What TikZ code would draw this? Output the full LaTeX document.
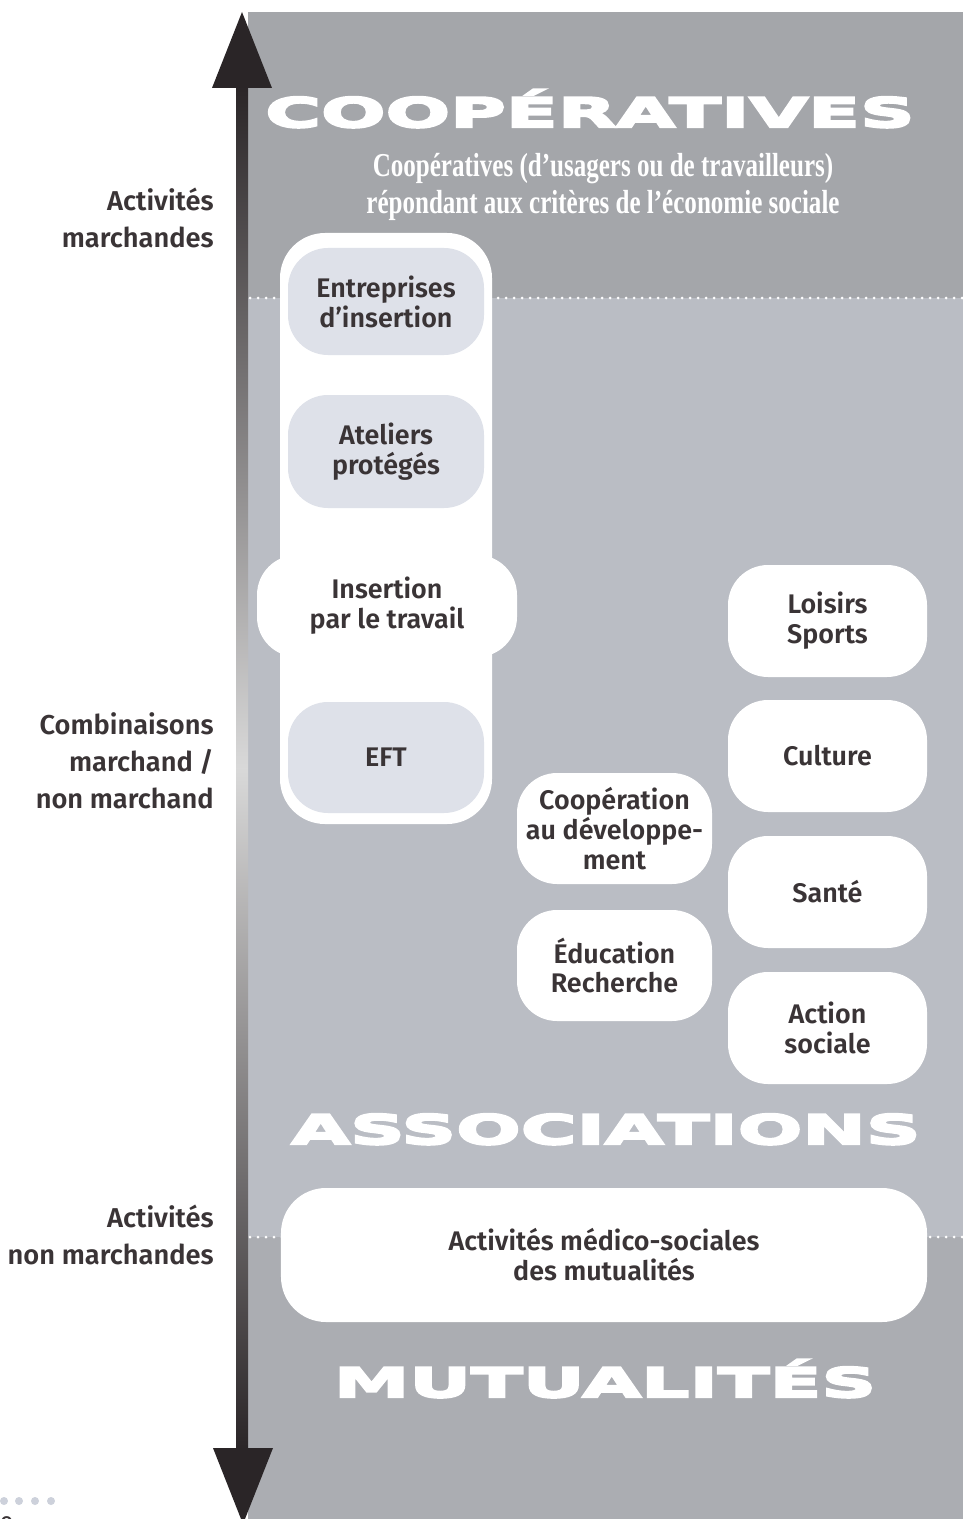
\documentclass[tikz,border=0pt]{standalone}
\usepackage{fontspec}
\setsansfont{Fira Sans}[BoldFont={Fira Sans SemiBold}]
\newfontfamily\headfont[FakeStretch=1.88, FakeBold=6]{DejaVu Sans}
\newfontfamily\notefont[FakeStretch=0.75]{Liberation Serif}
\definecolor{panelTop}{HTML}{A4A6AA}
\definecolor{panelMid}{HTML}{BABDC4}
\definecolor{panelLow}{HTML}{ABADB2}
\definecolor{boxInner}{HTML}{DEE1E9}
\definecolor{ink}{HTML}{3A3436}
\definecolor{arrowInk}{HTML}{2A2527}
\definecolor{folioDot}{HTML}{CDD1DB}
\begin{document}
\begin{tikzpicture}[x=0.2mm, y=-0.2mm,
    pill/.style ={rounded corners=8mm, fill=white, align=center, inner sep=0pt, text=ink,
      font=\sffamily\bfseries\fontsize{15.3}{17}\selectfont, minimum width=39.8mm, minimum height=22.4mm},
    innerpill/.style ={pill, fill=boxInner, minimum width=39.2mm},
    heading/.style ={anchor=base, text=white, inner sep=0pt, font=\headfont\bfseries\fontsize{23}{23}\selectfont},
    sidelabel/.style ={anchor=east, align=right, inner sep=0pt, text=ink,
      font=\sffamily\bfseries\fontsize{15.5}{21}\selectfont},
    dotrule/.style ={white, line width=0.6mm, line cap=round, dash pattern=on 0pt off 1.6mm}]
   \useasboundingbox (0,0) rectangle (963,1519);
   \fill[white] (0,0) rectangle (963,1519);
   % grey panel, three bands
   \fill[panelTop] (248,12) rectangle (963,298);
   \fill[panelMid] (248,298) rectangle (963,1237);
   \fill[panelLow] (248,1237) rectangle (963,1519);
   \draw[dotrule] (250,298) -- (963,298);
   \draw[dotrule] (250,1237) -- (963,1237);
   % double arrow on the left
   \shade[top color=arrowInk, bottom color=arrowInk, middle color=black!15] (236,86) rectangle (248,1450);
   \fill[arrowInk] (212,88) -- (242,12) -- (272,88) -- cycle;
   \fill[arrowInk] (213,1448) -- (243,1524) -- (273,1448) -- cycle;
   \node[sidelabel] (market)   at (214,218)  {Activités\\marchandes};
   \node[sidelabel] (mixed)    at (214,761)  {Combinaisons\\marchand /\\non marchand};
   \node[sidelabel] (nonmarket) at (214,1235) {Activités\\non marchandes};
   % headings
   \node[heading] (coophead) at (590,127)  {COOPÉRATIVES};
   \node[heading] (assohead) at (606,1144) {ASSOCIATIONS};
   \node[heading] (mutuhead) at (605,1397) {MUTUALITÉS};
   \node[align=center, text=white, inner sep=0pt, font=\notefont\bfseries\fontsize{19}{21}\selectfont] (coopnote) at (603,187)
     {Coopératives (d’usagers ou de travailleurs)\\répondant aux critères de l’économie sociale};
   % insertion column
   \node[pill, rounded corners=9mm, minimum width=42.4mm, minimum height=118.2mm] (column) at (386,528.5) {};
   \node[innerpill, minimum height=21.4mm] (ei)  at (386,301.5) {Entreprises\\d’insertion};
   \node[innerpill, minimum height=22.6mm] (ap)  at (386,451.5) {Ateliers\\protégés};
   \node[pill, minimum width=52mm, minimum height=20.4mm] (ipt) at (387,606) {Insertion\\par le travail};
   \node[innerpill, minimum height=22.2mm] (eft) at (386,757.5) {EFT};
   % associations
   \node[pill] (loisirs) at (827.5,621)  {Loisirs\\Sports};
   \node[pill] (culture) at (827.5,756)  {Culture};
   \node[pill] (sante)   at (827.5,892)  {Santé};
   \node[pill] (action)  at (827.5,1028) {Action\\sociale};
   \node[pill, minimum width=39mm, minimum height=22.2mm] (devcoop) at (614.5,828.5) {Coopération\\au développe-\\ment};
   \node[pill, minimum width=39mm, minimum height=22.2mm] (educ)    at (614.5,965.5) {Éducation\\Recherche};
   % mutualites
   \node[pill, rounded corners=9mm, minimum width=129.2mm, minimum height=26.8mm] (medsoc) at (604,1255)
     {Activités médico-sociales\\des mutualités};
   % folio
   \foreach \dx in {4,19,35,51}
     \fill[folioDot] (\dx,1501) circle (0.8mm);
   \node[anchor=base west, inner sep=0pt, text=ink, font=\sffamily\fontsize{15}{15}\selectfont] (folio) at (-1,1534) {0};
 \end{tikzpicture}
\end{document}
